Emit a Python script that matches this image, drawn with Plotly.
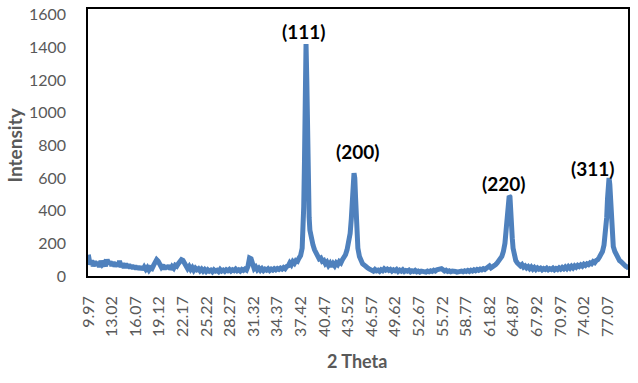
import plotly.graph_objects as go

# 2-theta (degrees) and intensity
two_theta = [
    9.97, 10.2, 10.4, 10.6, 10.8, 11.0, 11.2, 11.4, 11.6, 11.8, 12.0, 12.2, 12.4, 12.6, 12.8, 13.0,
    13.2, 13.4, 13.6, 13.8, 14.0, 14.2, 14.4, 14.6, 14.8, 15.0, 15.2, 15.4, 15.6,
    15.8, 16.0, 16.2, 16.4, 16.6, 16.8, 17.0, 17.2, 17.4, 17.6, 17.8, 18.0, 18.2,
    18.4, 18.6, 18.8, 19.0, 19.2, 19.4,
    19.6, 19.8, 20.0, 20.2, 20.4, 20.6, 20.8, 21.0, 21.2, 21.4,
    21.6, 21.8, 22.0, 22.2, 22.4, 22.6,
    22.8, 23.0, 23.2, 23.4, 23.6, 23.8, 24.0, 24.2, 24.4, 24.6,
    24.8, 25.0, 25.2, 25.4, 25.6, 25.8, 26.0, 26.2, 26.4, 26.6, 26.8, 27.0, 27.2, 27.4, 27.6, 27.8,
    28.0, 28.2, 28.4, 28.6, 28.8, 29.0, 29.2, 29.4, 29.6, 29.8, 30.0, 30.2, 30.4,
    30.6, 30.8, 31.0, 31.2,
    31.4, 31.6, 31.8, 32.0, 32.2, 32.4, 32.6, 32.8, 33.0, 33.2, 33.4, 33.6, 33.8, 34.0, 34.2, 34.4,
    34.6, 34.8, 35.0, 35.2, 35.4, 35.6,
    35.8, 36.0, 36.2, 36.4, 36.6, 36.8, 37.0, 37.2, 37.4, 37.6,
    37.7, 37.8, 37.9, 38.0, 38.1, 38.2, 38.3, 38.4, 38.5, 38.6, 38.8, 39.0, 39.2, 39.4, 39.6, 39.8,
    40.0, 40.2, 40.4, 40.6, 40.8, 41.0, 41.2, 41.4, 41.6, 41.8, 42.0, 42.2, 42.4, 42.6, 42.8, 43.0,
    43.2, 43.4, 43.6, 43.8, 43.95, 44.1, 44.2, 44.3, 44.4, 44.5, 44.6, 44.7, 44.8, 45.0, 45.2, 45.4,
    45.6, 45.8, 46.0, 46.2, 46.4,
    46.6, 46.8, 47.0, 47.2, 47.4, 47.6, 47.8, 48.0, 48.2, 48.4, 48.6, 48.8, 49.0, 49.2, 49.4, 49.6,
    49.8, 50.0, 50.2, 50.4, 50.6, 50.8, 51.0, 51.2, 51.4, 51.6, 51.8, 52.0, 52.2, 52.4, 52.6, 52.8,
    53.0, 53.2, 53.4, 53.6, 53.8, 54.0, 54.2, 54.4, 54.6, 54.8, 55.0, 55.2, 55.4, 55.6, 55.8, 56.0,
    56.2, 56.4, 56.6, 56.8, 57.0, 57.2, 57.4, 57.6, 57.8, 58.0, 58.2, 58.4, 58.6, 58.8, 59.0, 59.2,
    59.4, 59.6, 59.8, 60.0, 60.2, 60.4, 60.6, 60.8, 61.0, 61.2, 61.4, 61.6, 61.8, 62.0, 62.2, 62.4,
    62.6, 62.8, 63.0, 63.2, 63.4, 63.6, 63.8, 63.95, 64.1, 64.25, 64.35, 64.45, 64.55, 64.65, 64.75, 64.85,
    65.0, 65.2, 65.4, 65.6, 65.8, 66.0, 66.2, 66.4, 66.6, 66.8, 67.0, 67.2, 67.4, 67.6, 67.8, 68.0,
    68.2, 68.4, 68.6, 68.8, 69.0, 69.2, 69.4, 69.6, 69.8, 70.0, 70.2, 70.4, 70.6, 70.8, 71.0, 71.2,
    71.4, 71.6, 71.8, 72.0, 72.2, 72.4, 72.6, 72.8, 73.0, 73.2, 73.4, 73.6, 73.8, 74.0, 74.2, 74.4,
    74.6, 74.8, 75.0, 75.2, 75.4, 75.6, 75.8, 76.0, 76.2, 76.4, 76.6, 76.8, 76.95, 77.05, 77.15, 77.25,
    77.35, 77.45, 77.55, 77.65, 77.8, 78.0, 78.2, 78.4, 78.6, 78.8, 79.0, 79.2, 79.4, 79.6, 79.8,
]
intensity = [
    130, 70, 95, 60, 90, 65, 85, 55, 92, 70, 80, 60, 100, 75, 88, 62,
    85, 58, 80, 60, 92, 55, 78, 50, 75, 52, 70, 48, 66,
    45, 62, 42, 60, 40, 58, 38, 55, 40, 52, 36, 50, 45,
    65, 85, 100, 90, 70, 55,
    68, 42, 62, 45, 65, 40, 58, 48, 66, 60,
    75, 90, 100, 95, 80, 60,
    45, 58, 40, 52, 35, 48, 38, 45, 32, 42,
    30, 40, 28, 38, 30, 36, 26, 38, 30, 35, 27, 40, 30, 36, 28, 38,
    32, 40, 30, 38, 33, 42, 32, 38, 30, 40, 34, 42, 36,
    60, 110, 105, 60,
    45, 55, 38, 48, 35, 45, 33, 42, 36, 44, 34, 42, 36, 45, 38, 46,
    40, 48, 42, 52, 45, 58,
    62, 80, 68, 88, 78, 95, 90, 110, 125, 170,
    260, 420, 700, 1050, 1420, 1200, 800, 520, 360, 280, 220, 190, 160, 140, 120, 105,
    110, 90, 95, 75, 85, 65, 78, 58, 75, 62, 80, 70, 88, 80, 100, 110,
    130, 160, 200, 260, 350, 470, 560, 630, 600, 480, 330, 230, 170, 120, 95, 75,
    68, 55, 52, 45, 42,
    38, 30, 40, 32, 36, 28, 38, 32, 44, 36, 42, 34, 40, 30, 38, 32,
    40, 28, 36, 30, 38, 28, 34, 30, 36, 26, 32, 28, 34, 26, 30, 24,
    30, 26, 28, 24, 30, 26, 32, 28, 35, 30, 38, 42, 48, 45, 38, 30,
    35, 28, 32, 26, 30, 25, 28, 24, 28, 25, 30, 26, 32, 28, 34, 28,
    35, 30, 38, 32, 40, 35, 42, 38, 45, 40, 50, 58, 62, 50, 55, 60,
    70, 80, 90, 105, 120, 150, 200, 280, 380, 460, 490, 485, 430, 320, 230, 170,
    120, 95, 80, 70, 62, 70, 55, 62, 50, 58, 45, 55, 42, 52, 40, 50,
    42, 48, 38, 46, 40, 48, 38, 45, 40, 48, 38, 46, 40, 50, 42, 52,
    44, 55, 45, 58, 48, 60, 50, 62, 54, 65, 58, 68, 60, 72, 65, 75,
    70, 80, 75, 88, 82, 95, 100, 115, 130, 150, 190, 260, 360, 470, 560, 600,
    560, 450, 330, 240, 180, 150, 130, 110, 95, 88, 75, 70, 60, 55, 45,
]

tick_values = [9.97, 13.02, 16.07, 19.12, 22.17, 25.22, 28.27, 31.32, 34.37, 37.42, 40.47,
               43.52, 46.57, 49.62, 52.67, 55.72, 58.77, 61.82, 64.87, 67.92, 70.97, 74.02, 77.07]
tick_labels = ["9.97", "13.02", "16.07", "19.12", "22.17", "25.22", "28.27", "31.32", "34.37",
               "37.42", "40.47", "43.52", "46.57", "49.62", "52.67", "55.72", "58.77", "61.82",
               "64.87", "67.92", "70.97", "74.02", "77.07"]

peak_labels = ["(111)", "(200)", "(220)", "(311)"]
peak_label_x = [37.81, 44.78, 63.73, 75.2]
peak_label_y = [1498, 763, 566, 661]

FONT = "Lato"
GRAY = "#595959"

fig = go.Figure()
fig.add_trace(go.Scatter(
    x=two_theta, y=intensity, mode="lines",
    line=dict(color="#4F81BD", width=5),
    showlegend=False, hoverinfo="skip",
))

for txt, ax, ay in zip(peak_labels, peak_label_x, peak_label_y):
    fig.add_annotation(x=ax, y=ay, xref="x", yref="y", text=f"<b>{txt}</b>",
                       xanchor="center", yanchor="middle",
                       showarrow=False, font=dict(family=FONT, size=19, color="#000000"))

fig.add_annotation(x=-0.137, y=0.489, xref="paper", yref="paper", text="<b>Intensity</b>",
                   xanchor="center", yanchor="middle",
                   textangle=-90, showarrow=False, font=dict(family=FONT, size=19, color=GRAY))
fig.add_annotation(x=0.498, y=-0.318, xref="paper", yref="paper", text="<b>2 Theta</b>",
                   xanchor="center", yanchor="middle",
                   showarrow=False, font=dict(family=FONT, size=18, color=GRAY))

fig.update_layout(
    width=638, height=383,
    margin=dict(l=88, r=10, t=9, b=107),
    paper_bgcolor="white", plot_bgcolor="white",
    font=dict(family=FONT, size=16, color=GRAY),
    xaxis=dict(
        range=[9.93, 79.7], tickmode="array", tickvals=tick_values, ticktext=tick_labels,
        tickangle=-90, showgrid=False, zeroline=False, ticks="", automargin=False,
        showline=True, mirror=True, linecolor="#000000", linewidth=1.5,
        ticklabelstandoff=12, tickfont=dict(family=FONT, size=16, color=GRAY),
    ),
    yaxis=dict(
        range=[0, 1635], tickmode="array", tickvals=[0, 200, 400, 600, 800, 1000, 1200, 1400, 1600],
        showgrid=False, zeroline=False, ticks="", automargin=False,
        showline=True, mirror=True, linecolor="#000000", linewidth=1.5,
        ticklabelstandoff=17, tickfont=dict(family=FONT, size=16, color=GRAY),
    ),
)

fig.write_html("out.html", config={"displayModeBar": False},
               post_script="document.body.style.margin='0';")
